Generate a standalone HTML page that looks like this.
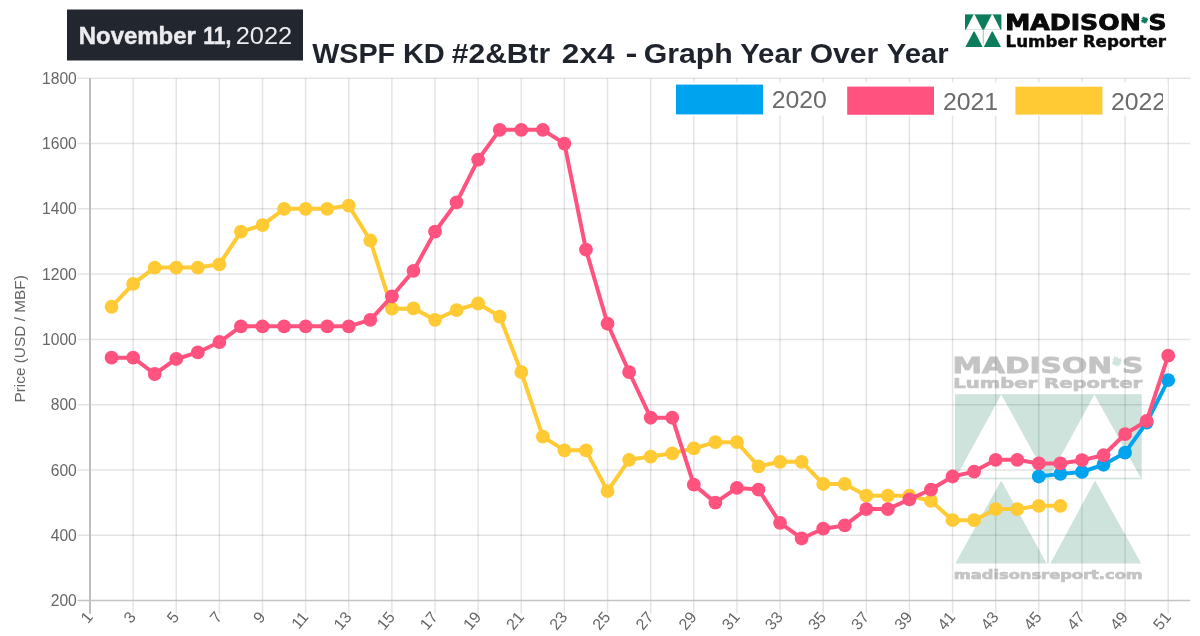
<!DOCTYPE html>
<html lang="en">
<head>
<meta charset="utf-8">
<title>WSPF KD #2&amp;Btr 2x4 - Graph Year Over Year</title>
<style>
html,body{margin:0;padding:0;background:#fff;}
body{width:1200px;height:636px;overflow:hidden;font-family:"Liberation Sans",sans-serif;}
svg{display:block;}
text{font-family:"Liberation Sans",sans-serif;}
.wide{font-family:"DejaVu Sans","Liberation Sans",sans-serif;font-weight:bold;}
</style>
</head>
<body>
<svg width="1200" height="636" viewBox="0 0 1200 636">
<rect x="0" y="0" width="1200" height="636" fill="#ffffff"/>

<g id="watermark">
<text x="952.58" y="372.60" font-size="22" font-weight="bold" fill="#c4c4c4" textLength="159.35" lengthAdjust="spacingAndGlyphs" class="wide" stroke="#c4c4c4" stroke-width="0.8">MADISON</text>
<text x="1121.98" y="372.60" font-size="22" font-weight="bold" fill="#c4c4c4" textLength="21.43" lengthAdjust="spacingAndGlyphs" class="wide" stroke="#c4c4c4" stroke-width="0.8">S</text>
<polygon transform="translate(1116.60,361.00) rotate(-25) scale(1.15)" points="0,-5 1.2,-2.6 2.6,-3.4 2.2,-0.6 4.6,-1.6 3.8,0.4 4.8,1 2.2,3 2.6,4.2 0.4,3.8 0.4,5.4 -0.4,5.4 -0.4,3.8 -2.6,4.2 -2.2,3 -4.8,1 -3.8,0.4 -4.6,-1.6 -2.2,-0.6 -2.6,-3.4 -1.2,-2.6" fill="#d0e4dd"/>
<text class="wide" x="953.2" y="388.2" font-size="14.6" fill="#c4c4c4" stroke="#c4c4c4" stroke-width="0.7" textLength="189" lengthAdjust="spacingAndGlyphs">Lumber Reporter</text>
<rect x="955" y="394.2" width="186.7" height="85.1" fill="#cde3dc"/>
<polygon points="955.8,477.7 1001.3,394.4 1047,477.7" fill="#ffffff"/>
<polygon points="1049,477.7 1094.4,394.4 1140.8,477.7" fill="#ffffff"/>
<polygon points="955.3,563.6 1001.2,480.4 1046.6,563.6" fill="#cde3dc"/>
<polygon points="1050.4,563.6 1095,480.4 1141.2,563.6" fill="#cde3dc"/>
<rect x="1047.1" y="479" width="1.8" height="84.4" fill="#cde3dc"/>
<text class="wide" x="953.8" y="579.0" font-size="12.6" fill="#c4c4c4" stroke="#c4c4c4" stroke-width="0.7" textLength="189" lengthAdjust="spacingAndGlyphs">madisonsreport.com</text>
</g>
<g id="grid" stroke="#000" stroke-opacity="0.105" stroke-width="1.5">
<line x1="133.13" y1="78.30" x2="133.13" y2="613.8"/>
<line x1="176.26" y1="78.30" x2="176.26" y2="613.8"/>
<line x1="219.38" y1="78.30" x2="219.38" y2="613.8"/>
<line x1="262.51" y1="78.30" x2="262.51" y2="613.8"/>
<line x1="305.64" y1="78.30" x2="305.64" y2="613.8"/>
<line x1="348.77" y1="78.30" x2="348.77" y2="613.8"/>
<line x1="391.90" y1="78.30" x2="391.90" y2="613.8"/>
<line x1="435.02" y1="78.30" x2="435.02" y2="613.8"/>
<line x1="478.15" y1="78.30" x2="478.15" y2="613.8"/>
<line x1="521.28" y1="78.30" x2="521.28" y2="613.8"/>
<line x1="564.41" y1="78.30" x2="564.41" y2="613.8"/>
<line x1="607.54" y1="78.30" x2="607.54" y2="613.8"/>
<line x1="650.66" y1="78.30" x2="650.66" y2="613.8"/>
<line x1="693.79" y1="78.30" x2="693.79" y2="613.8"/>
<line x1="736.92" y1="78.30" x2="736.92" y2="613.8"/>
<line x1="780.05" y1="78.30" x2="780.05" y2="613.8"/>
<line x1="823.18" y1="78.30" x2="823.18" y2="613.8"/>
<line x1="866.30" y1="78.30" x2="866.30" y2="613.8"/>
<line x1="909.43" y1="78.30" x2="909.43" y2="613.8"/>
<line x1="952.56" y1="78.30" x2="952.56" y2="613.8"/>
<line x1="995.69" y1="78.30" x2="995.69" y2="613.8"/>
<line x1="1038.82" y1="78.30" x2="1038.82" y2="613.8"/>
<line x1="1081.94" y1="78.30" x2="1081.94" y2="613.8"/>
<line x1="1125.07" y1="78.30" x2="1125.07" y2="613.8"/>
<line x1="1168.20" y1="78.30" x2="1168.20" y2="613.8"/>
<line x1="77.5" y1="535.23" x2="1190.3" y2="535.23"/>
<line x1="77.5" y1="469.95" x2="1190.3" y2="469.95"/>
<line x1="77.5" y1="404.68" x2="1190.3" y2="404.68"/>
<line x1="77.5" y1="339.40" x2="1190.3" y2="339.40"/>
<line x1="77.5" y1="274.12" x2="1190.3" y2="274.12"/>
<line x1="77.5" y1="208.85" x2="1190.3" y2="208.85"/>
<line x1="77.5" y1="143.57" x2="1190.3" y2="143.57"/>
<line x1="77.5" y1="78.30" x2="1190.3" y2="78.30"/>
</g>
<line x1="90" y1="78.3" x2="90" y2="613.8" stroke="#bebebe" stroke-width="2"/>
<line x1="77.5" y1="600.5" x2="1190.3" y2="600.5" stroke="#c4c4c4" stroke-width="1.5"/>
<g font-size="15.6" fill="#666" text-anchor="end">
<text x="76.8" y="606.10">200</text>
<text x="76.8" y="540.83">400</text>
<text x="76.8" y="475.55">600</text>
<text x="76.8" y="410.28">800</text>
<text x="76.8" y="345.00">1000</text>
<text x="76.8" y="279.73">1200</text>
<text x="76.8" y="214.45">1400</text>
<text x="76.8" y="149.17">1600</text>
<text x="76.8" y="83.90">1800</text>
</g>
<g font-size="16" fill="#666" text-anchor="end">
<text transform="translate(93.70,617.4) rotate(-50)">1</text>
<text transform="translate(136.83,617.4) rotate(-50)">3</text>
<text transform="translate(179.96,617.4) rotate(-50)">5</text>
<text transform="translate(223.08,617.4) rotate(-50)">7</text>
<text transform="translate(266.21,617.4) rotate(-50)">9</text>
<text transform="translate(309.34,617.4) rotate(-50)">11</text>
<text transform="translate(352.47,617.4) rotate(-50)">13</text>
<text transform="translate(395.60,617.4) rotate(-50)">15</text>
<text transform="translate(438.72,617.4) rotate(-50)">17</text>
<text transform="translate(481.85,617.4) rotate(-50)">19</text>
<text transform="translate(524.98,617.4) rotate(-50)">21</text>
<text transform="translate(568.11,617.4) rotate(-50)">23</text>
<text transform="translate(611.24,617.4) rotate(-50)">25</text>
<text transform="translate(654.36,617.4) rotate(-50)">27</text>
<text transform="translate(697.49,617.4) rotate(-50)">29</text>
<text transform="translate(740.62,617.4) rotate(-50)">31</text>
<text transform="translate(783.75,617.4) rotate(-50)">33</text>
<text transform="translate(826.88,617.4) rotate(-50)">35</text>
<text transform="translate(870.00,617.4) rotate(-50)">37</text>
<text transform="translate(913.13,617.4) rotate(-50)">39</text>
<text transform="translate(956.26,617.4) rotate(-50)">41</text>
<text transform="translate(999.39,617.4) rotate(-50)">43</text>
<text transform="translate(1042.52,617.4) rotate(-50)">45</text>
<text transform="translate(1085.64,617.4) rotate(-50)">47</text>
<text transform="translate(1128.77,617.4) rotate(-50)">49</text>
<text transform="translate(1171.90,617.4) rotate(-50)">51</text>
</g>
<text transform="translate(24.7,338.9) rotate(-90)" font-size="15.4" fill="#666" text-anchor="middle">Price (USD / MBF)</text>
<g id="legend">
<rect x="655" y="82.3" width="508.2" height="33.2" fill="#ffffff"/>
<rect x="676" y="84.6" width="87" height="29.8" fill="#00a3ee"/>
<text x="771.7" y="107.9" font-size="24" fill="#6a6a6a" textLength="55.2" lengthAdjust="spacingAndGlyphs">2020</text>
<rect x="847.2" y="86.6" width="86.8" height="28.2" fill="#ff527f"/>
<text x="942.9" y="109.8" font-size="24" fill="#6a6a6a" textLength="55.2" lengthAdjust="spacingAndGlyphs">2021</text>
<rect x="1015.4" y="86.7" width="87" height="27.9" fill="#ffca33"/>
<text x="1110.9" y="109.8" font-size="24" fill="#6a6a6a" textLength="55.2" lengthAdjust="spacingAndGlyphs">2022</text>
<rect x="1163" y="82.3" width="4.6" height="33.2" fill="#ffffff"/>
</g>
<g id="s2022">
<polyline points="111.56,306.76 133.13,283.92 154.69,267.60 176.26,267.60 197.82,267.60 219.38,264.33 240.95,231.70 262.51,225.17 284.08,208.85 305.64,208.85 327.20,208.85 348.77,205.59 370.33,240.51 391.90,308.72 413.46,308.39 435.02,319.82 456.59,310.03 478.15,303.50 499.72,316.55 521.28,372.04 542.84,436.66 564.41,450.37 585.97,450.37 607.54,491.16 629.10,459.83 650.66,456.57 672.23,453.30 693.79,448.41 715.36,442.21 736.92,442.21 758.48,466.36 780.05,461.79 801.61,461.79 823.18,483.98 844.74,483.98 866.30,495.73 887.87,495.73 909.43,495.73 931.00,500.96 952.56,520.21 974.12,520.21 995.69,509.12 1017.25,509.12 1038.82,505.85 1060.38,505.85" fill="none" stroke="#ffca33" stroke-width="4.0" stroke-linejoin="round" stroke-linecap="round"/>
<g fill="#ffca33">
<circle cx="111.56" cy="306.76" r="6.9"/>
<circle cx="133.13" cy="283.92" r="6.9"/>
<circle cx="154.69" cy="267.60" r="6.9"/>
<circle cx="176.26" cy="267.60" r="6.9"/>
<circle cx="197.82" cy="267.60" r="6.9"/>
<circle cx="219.38" cy="264.33" r="6.9"/>
<circle cx="240.95" cy="231.70" r="6.9"/>
<circle cx="262.51" cy="225.17" r="6.9"/>
<circle cx="284.08" cy="208.85" r="6.9"/>
<circle cx="305.64" cy="208.85" r="6.9"/>
<circle cx="327.20" cy="208.85" r="6.9"/>
<circle cx="348.77" cy="205.59" r="6.9"/>
<circle cx="370.33" cy="240.51" r="6.9"/>
<circle cx="391.90" cy="308.72" r="6.9"/>
<circle cx="413.46" cy="308.39" r="6.9"/>
<circle cx="435.02" cy="319.82" r="6.9"/>
<circle cx="456.59" cy="310.03" r="6.9"/>
<circle cx="478.15" cy="303.50" r="6.9"/>
<circle cx="499.72" cy="316.55" r="6.9"/>
<circle cx="521.28" cy="372.04" r="6.9"/>
<circle cx="542.84" cy="436.66" r="6.9"/>
<circle cx="564.41" cy="450.37" r="6.9"/>
<circle cx="585.97" cy="450.37" r="6.9"/>
<circle cx="607.54" cy="491.16" r="6.9"/>
<circle cx="629.10" cy="459.83" r="6.9"/>
<circle cx="650.66" cy="456.57" r="6.9"/>
<circle cx="672.23" cy="453.30" r="6.9"/>
<circle cx="693.79" cy="448.41" r="6.9"/>
<circle cx="715.36" cy="442.21" r="6.9"/>
<circle cx="736.92" cy="442.21" r="6.9"/>
<circle cx="758.48" cy="466.36" r="6.9"/>
<circle cx="780.05" cy="461.79" r="6.9"/>
<circle cx="801.61" cy="461.79" r="6.9"/>
<circle cx="823.18" cy="483.98" r="6.9"/>
<circle cx="844.74" cy="483.98" r="6.9"/>
<circle cx="866.30" cy="495.73" r="6.9"/>
<circle cx="887.87" cy="495.73" r="6.9"/>
<circle cx="909.43" cy="495.73" r="6.9"/>
<circle cx="931.00" cy="500.96" r="6.9"/>
<circle cx="952.56" cy="520.21" r="6.9"/>
<circle cx="974.12" cy="520.21" r="6.9"/>
<circle cx="995.69" cy="509.12" r="6.9"/>
<circle cx="1017.25" cy="509.12" r="6.9"/>
<circle cx="1038.82" cy="505.85" r="6.9"/>
<circle cx="1060.38" cy="505.85" r="6.9"/>
</g></g>
<g id="s2020">
<polyline points="1038.82,476.48 1060.38,473.87 1081.94,471.91 1103.51,464.73 1125.07,452.65 1146.64,422.63 1168.20,380.20" fill="none" stroke="#00a3ee" stroke-width="4.0" stroke-linejoin="round" stroke-linecap="round"/>
<g fill="#00a3ee">
<circle cx="1038.82" cy="476.48" r="6.9"/>
<circle cx="1060.38" cy="473.87" r="6.9"/>
<circle cx="1081.94" cy="471.91" r="6.9"/>
<circle cx="1103.51" cy="464.73" r="6.9"/>
<circle cx="1125.07" cy="452.65" r="6.9"/>
<circle cx="1146.64" cy="422.63" r="6.9"/>
<circle cx="1168.20" cy="380.20" r="6.9"/>
</g></g>
<g id="s2021">
<polyline points="111.56,357.68 133.13,357.68 154.69,374.00 176.26,358.98 197.82,352.46 219.38,342.01 240.95,326.35 262.51,326.35 284.08,326.35 305.64,326.35 327.20,326.35 348.77,326.35 370.33,319.82 391.90,296.32 413.46,270.86 435.02,231.70 456.59,202.32 478.15,159.57 499.72,129.87 521.28,129.87 542.84,129.87 564.41,143.57 585.97,249.65 607.54,323.73 629.10,372.04 650.66,417.73 672.23,417.73 693.79,484.64 715.36,502.59 736.92,487.90 758.48,489.53 780.05,522.82 801.61,538.49 823.18,528.70 844.74,525.43 866.30,509.12 887.87,509.12 909.43,499.32 931.00,489.53 952.56,476.48 974.12,471.58 995.69,459.83 1017.25,459.83 1038.82,463.42 1060.38,463.42 1081.94,460.16 1103.51,455.26 1125.07,434.05 1146.64,420.99 1168.20,355.72" fill="none" stroke="#ff527f" stroke-width="4.0" stroke-linejoin="round" stroke-linecap="round"/>
<g fill="#ff527f">
<circle cx="111.56" cy="357.68" r="6.9"/>
<circle cx="133.13" cy="357.68" r="6.9"/>
<circle cx="154.69" cy="374.00" r="6.9"/>
<circle cx="176.26" cy="358.98" r="6.9"/>
<circle cx="197.82" cy="352.46" r="6.9"/>
<circle cx="219.38" cy="342.01" r="6.9"/>
<circle cx="240.95" cy="326.35" r="6.9"/>
<circle cx="262.51" cy="326.35" r="6.9"/>
<circle cx="284.08" cy="326.35" r="6.9"/>
<circle cx="305.64" cy="326.35" r="6.9"/>
<circle cx="327.20" cy="326.35" r="6.9"/>
<circle cx="348.77" cy="326.35" r="6.9"/>
<circle cx="370.33" cy="319.82" r="6.9"/>
<circle cx="391.90" cy="296.32" r="6.9"/>
<circle cx="413.46" cy="270.86" r="6.9"/>
<circle cx="435.02" cy="231.70" r="6.9"/>
<circle cx="456.59" cy="202.32" r="6.9"/>
<circle cx="478.15" cy="159.57" r="6.9"/>
<circle cx="499.72" cy="129.87" r="6.9"/>
<circle cx="521.28" cy="129.87" r="6.9"/>
<circle cx="542.84" cy="129.87" r="6.9"/>
<circle cx="564.41" cy="143.57" r="6.9"/>
<circle cx="585.97" cy="249.65" r="6.9"/>
<circle cx="607.54" cy="323.73" r="6.9"/>
<circle cx="629.10" cy="372.04" r="6.9"/>
<circle cx="650.66" cy="417.73" r="6.9"/>
<circle cx="672.23" cy="417.73" r="6.9"/>
<circle cx="693.79" cy="484.64" r="6.9"/>
<circle cx="715.36" cy="502.59" r="6.9"/>
<circle cx="736.92" cy="487.90" r="6.9"/>
<circle cx="758.48" cy="489.53" r="6.9"/>
<circle cx="780.05" cy="522.82" r="6.9"/>
<circle cx="801.61" cy="538.49" r="6.9"/>
<circle cx="823.18" cy="528.70" r="6.9"/>
<circle cx="844.74" cy="525.43" r="6.9"/>
<circle cx="866.30" cy="509.12" r="6.9"/>
<circle cx="887.87" cy="509.12" r="6.9"/>
<circle cx="909.43" cy="499.32" r="6.9"/>
<circle cx="931.00" cy="489.53" r="6.9"/>
<circle cx="952.56" cy="476.48" r="6.9"/>
<circle cx="974.12" cy="471.58" r="6.9"/>
<circle cx="995.69" cy="459.83" r="6.9"/>
<circle cx="1017.25" cy="459.83" r="6.9"/>
<circle cx="1038.82" cy="463.42" r="6.9"/>
<circle cx="1060.38" cy="463.42" r="6.9"/>
<circle cx="1081.94" cy="460.16" r="6.9"/>
<circle cx="1103.51" cy="455.26" r="6.9"/>
<circle cx="1125.07" cy="434.05" r="6.9"/>
<circle cx="1146.64" cy="420.99" r="6.9"/>
<circle cx="1168.20" cy="355.72" r="6.9"/>
</g></g>
<rect x="67" y="9.5" width="236" height="51" fill="#22262f"/>
<text x="78.79" y="43.60" font-size="24.7" font-weight="bold" fill="#ececf0" textLength="117.09" lengthAdjust="spacingAndGlyphs" stroke="#ececf0" stroke-width="0.45">November</text>
<text x="203.26" y="43.60" font-size="24.7" font-weight="bold" fill="#ececf0" textLength="28.07" lengthAdjust="spacingAndGlyphs" stroke="#ececf0" stroke-width="0.45">11,</text>
<text x="235.70" y="43.60" font-size="23.2" font-weight="normal" fill="#ececf0" textLength="56.53" lengthAdjust="spacingAndGlyphs">2022</text>
<text x="312.21" y="63.10" font-size="27.6" font-weight="bold" fill="#1f242c" textLength="82.97" lengthAdjust="spacingAndGlyphs">WSPF</text>
<text x="402.90" y="63.10" font-size="27.6" font-weight="bold" fill="#1f242c" textLength="41.92" lengthAdjust="spacingAndGlyphs">KD</text>
<text x="451.88" y="63.10" font-size="27.6" font-weight="bold" fill="#1f242c" textLength="98.24" lengthAdjust="spacingAndGlyphs">#2&amp;Btr</text>
<text x="561.86" y="63.10" font-size="27.6" font-weight="bold" fill="#1f242c" textLength="52.67" lengthAdjust="spacingAndGlyphs">2x4</text>
<text x="625.57" y="63.10" font-size="27.6" font-weight="bold" fill="#1f242c" textLength="12.00" lengthAdjust="spacingAndGlyphs">-</text>
<text x="643.70" y="63.10" font-size="27.6" font-weight="bold" fill="#1f242c" textLength="89.10" lengthAdjust="spacingAndGlyphs">Graph</text>
<text x="740.18" y="63.10" font-size="27.6" font-weight="bold" fill="#1f242c" textLength="61.97" lengthAdjust="spacingAndGlyphs">Year</text>
<text x="809.70" y="63.10" font-size="27.6" font-weight="bold" fill="#1f242c" textLength="68.67" lengthAdjust="spacingAndGlyphs">Over</text>
<text x="886.78" y="63.10" font-size="27.6" font-weight="bold" fill="#1f242c" textLength="61.77" lengthAdjust="spacingAndGlyphs">Year</text>
<g id="logo">
<rect x="965" y="14.4" width="36.4" height="15.3" fill="#0b7c5c"/>
<polygon points="965.8,29.7 973.6,14.4 974.6,14.4 982.4,29.7" fill="#ffffff"/>
<polygon points="984,29.7 991.8,14.4 992.8,14.4 1000.6,29.7" fill="#ffffff"/>
<polygon points="965.4,47 973.6,31.6 974.6,31.6 982.6,47" fill="#0b7c5c"/>
<polygon points="983.8,47 991.8,31.6 992.8,31.6 1001,47" fill="#0b7c5c"/>
<rect x="982.8" y="29.7" width="0.8" height="14" fill="#7fb9a6"/>
<text x="1005.28" y="29.60" font-size="20.6" font-weight="bold" fill="#0a0a0a" textLength="135.45" lengthAdjust="spacingAndGlyphs" class="wide" stroke="#0a0a0a" stroke-width="0.9">MADISON</text>
<text x="1148.52" y="29.60" font-size="20.6" font-weight="bold" fill="#0a0a0a" textLength="18.01" lengthAdjust="spacingAndGlyphs" class="wide" stroke="#0a0a0a" stroke-width="0.9">S</text>
<polygon transform="translate(1144.40,19.80) rotate(-25) scale(0.8)" points="0,-5 1.2,-2.6 2.6,-3.4 2.2,-0.6 4.6,-1.6 3.8,0.4 4.8,1 2.2,3 2.6,4.2 0.4,3.8 0.4,5.4 -0.4,5.4 -0.4,3.8 -2.6,4.2 -2.2,3 -4.8,1 -3.8,0.4 -4.6,-1.6 -2.2,-0.6 -2.6,-3.4 -1.2,-2.6" fill="#0b7c5c"/>
<text class="wide" x="1005.6" y="46.5" font-size="15.2" fill="#0a0a0a" stroke="#0a0a0a" stroke-width="0.45" textLength="160.5" lengthAdjust="spacingAndGlyphs">Lumber Reporter</text>
</g>
</svg>
</body>
</html>
